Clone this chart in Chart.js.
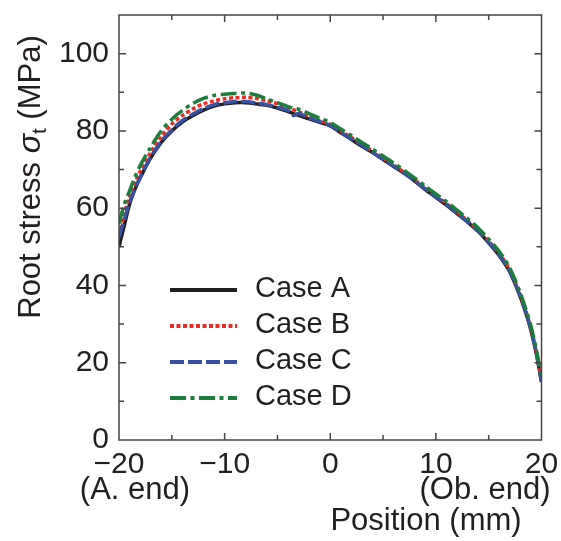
<!DOCTYPE html>
<html>
<head>
<meta charset="utf-8">
<script src="https://cdn.jsdelivr.net/npm/chart.js@4.4.0/dist/chart.umd.min.js"></script>
<style>
  html, body { margin: 0; padding: 0; background: #fff; }
  #wrap { width: 561px; height: 541px; position: relative; }
</style>
</head>
<body>
<div id="wrap"><canvas id="chartStuff"></canvas></div>
<script>
// positions along the root (mm)
var positions = [-20, -19.5, -19, -18.5, -18, -17, -16, -15, -14, -13, -12, -11, -10, -9, -8, -7, -6, -5, -4, -3.5, -3, -2, -1,
  0, 1, 2, 3, 4, 5, 6, 7, 8, 9, 10, 11, 12, 13, 14, 15, 16, 17, 18, 18.5, 19, 19.5, 20];

// root stress (MPa)
var caseA = [50, 55.5, 61, 64.8, 67.8, 73, 77, 80, 82.3, 84, 85.4, 86.4, 87, 87.3, 87.3, 87, 86.6, 85.9, 85, 84.5, 84, 83.1, 82.2,
  81.3, 79.5, 77.8, 76, 74.4, 72.6, 70.8, 69, 67, 64.8, 62.8, 60.8, 58.6, 56.4, 54, 51, 47.7, 43.5, 37, 33, 28.4, 22.5, 15];
var caseB = [53, 58.5, 63, 66.5, 69.5, 74.5, 78.5, 81.8, 84, 85.7, 87, 87.8, 88.3, 88.6, 88.7, 88.4, 87.8, 87, 86, 85.5, 85, 83.8, 82.7,
  81.7, 80, 78.3, 76.5, 74.8, 73, 71.2, 69.3, 67.3, 65.2, 63.2, 61.2, 59, 56.8, 54.4, 51.5, 48.3, 44, 37.5, 33.5, 29, 23, 15.5];
var caseC = [52.5, 57, 61.5, 65, 68, 73.3, 77.3, 80.3, 82.7, 84.4, 85.8, 86.8, 87.3, 87.6, 87.6, 87.2, 86.8, 86.1, 85.3, 84, 84.5, 83.4, 82.4,
  81.4, 79.6, 77.9, 76.3, 74.4, 72.7, 70.9, 69.1, 67.1, 65, 63, 61, 58.8, 56.5, 54.1, 51.2, 47.9, 43.7, 37.2, 33.2, 28.6, 22.7, 15.2];
var caseD = [56, 61, 64.5, 68, 71, 75.8, 80, 83, 85.3, 87.1, 88.4, 89.2, 89.5, 89.7, 89.8, 89.3, 88.3, 87.3, 86.3, 85.9, 85.6, 84.5, 83.3,
  82.2, 80.5, 78.8, 77, 75.3, 73.5, 71.7, 69.8, 67.8, 65.7, 63.7, 61.7, 59.5, 57.3, 54.9, 52, 48.8, 44.5, 38, 34, 29.5, 23.5, 16];

var caseNames = ["Case A", "Case B", "Case C", "Case D"];
var xTicks = [-20, -10, 0, 10, 20];
var yTicks = [0, 20, 40, 60, 80, 100];

var FONT = "'Liberation Sans', Arial, Helvetica, sans-serif";
var INK = "#231f20";

function pts(ys) {
  return positions.map(function (x, i) { return { x: x, y: ys[i] }; });
}

var styles = [
  { color: "#231f20", dash: [] },
  { color: "#ee2a24", dash: [4, 2.5] },
  { color: "#3953a4", dash: [14, 4] },
  { color: "#1b7f3b", dash: [16, 4.5, 4, 4.5] }
];

var allCases = [caseA, caseB, caseC, caseD];
var datasets = allCases.map(function (ys, i) {
  return {
    label: caseNames[i],
    data: pts(ys),
    showLine: true,
    borderColor: styles[i].color,
    borderDash: styles[i].dash,
    borderWidth: 3.5,
    pointRadius: 0,
    tension: 0.3,
    order: 4 - i
  };
});

// frame, inward ticks, legend and axis titles
var decor = {
  id: "decor",
  afterDatasetsDraw: function (chart) {
    var ctx = chart.ctx;
    var a = chart.chartArea;
    var xs = chart.scales.x, ys = chart.scales.y;
    ctx.save();
    ctx.strokeStyle = "#444";
    ctx.lineWidth = 1.5;
    ctx.strokeRect(a.left, a.top, a.right - a.left, a.bottom - a.top);
    ctx.beginPath();
    for (var v = -15; v <= 15; v += 5) {
      var px = xs.getPixelForValue(v);
      var len = (v % 10 === 0) ? 7 : 5;
      ctx.moveTo(px, a.bottom); ctx.lineTo(px, a.bottom - len);
      ctx.moveTo(px, a.top); ctx.lineTo(px, a.top + len);
    }
    for (var w = 10; w <= 100; w += 10) {
      var py = ys.getPixelForValue(w);
      var l2 = (w % 20 === 0) ? 7 : 5;
      ctx.moveTo(a.left, py); ctx.lineTo(a.left + l2, py);
      ctx.moveTo(a.right, py); ctx.lineTo(a.right - l2, py);
    }
    ctx.stroke();

    // legend
    ctx.font = "29px " + FONT;
    ctx.textBaseline = "middle";
    ctx.textAlign = "left";
    var rowY = [290, 326, 362, 398];
    chart.data.datasets.forEach(function (ds, i) {
      ctx.beginPath();
      ctx.strokeStyle = ds.borderColor;
      ctx.lineWidth = 4;
      ctx.setLineDash(ds.borderDash);
      ctx.moveTo(170, rowY[i]); ctx.lineTo(237, rowY[i]);
      ctx.stroke();
      ctx.setLineDash([]);
      ctx.fillStyle = INK;
      ctx.fillText(ds.label, 255, rowY[i] - 1);
    });

    // x-axis extra labels
    ctx.fillStyle = INK;
    ctx.textBaseline = "alphabetic";
    ctx.textAlign = "center";
    ctx.font = "31px " + FONT;
    ctx.fillText("(A. end)", 135, 499);
    ctx.fillText("(Ob. end)", 485, 499);
    ctx.fillText("Position (mm)", 426, 530);

    // y-axis title with italic sigma and subscript t
    ctx.translate(40, 177);
    ctx.rotate(-Math.PI / 2);
    var parts = [
      { t: "Root stress ", f: "31px " + FONT, dy: 0 },
      { t: "\u03c3", f: "italic 32px " + FONT, dy: 0 },
      { t: "t", f: "21px " + FONT, dy: 6 },
      { t: " (MPa)", f: "31px " + FONT, dy: 0 }
    ];
    var total = 0;
    parts.forEach(function (p) { ctx.font = p.f; p.w = ctx.measureText(p.t).width; total += p.w; });
    var x0 = -total / 2;
    ctx.textAlign = "left";
    parts.forEach(function (p) {
      ctx.font = p.f;
      ctx.fillText(p.t, x0, p.dy);
      x0 += p.w;
    });
    ctx.restore();
  }
};

var ctx = document.getElementById("chartStuff").getContext("2d");
var myChart = new Chart(ctx, {
  type: "scatter",
  data: { datasets: datasets },
  options: {
    responsive: true,
    maintainAspectRatio: false,
    animation: false,
    layout: { padding: { left: 0, top: 15, right: 19.5, bottom: 0 } },
    plugins: { legend: { display: false }, tooltip: { enabled: false } },
    scales: {
      x: {
        type: "linear",
        min: -20, max: 20,
        afterFit: function (s) { s.height = 101; s.paddingLeft = 0; s.paddingRight = 0; },
        afterBuildTicks: function (s) { s.ticks = xTicks.map(function (v) { return { value: v }; }); },
        grid: { display: false, drawTicks: false },
        border: { display: false },
        ticks: {
          padding: 7,
          color: INK,
          font: { size: 30, family: FONT },
          maxRotation: 0,
          callback: function (v) { return v < 0 ? "\u2212" + Math.abs(v) : String(v); }
        }
      },
      y: {
        type: "linear",
        min: 0, max: 110,
        afterFit: function (s) { s.width = 119; s.paddingTop = 0; s.paddingBottom = 0; },
        afterBuildTicks: function (s) { s.ticks = yTicks.map(function (v) { return { value: v }; }); },
        grid: { display: false, drawTicks: false },
        border: { display: false },
        ticks: {
          padding: 10,
          color: INK,
          font: { size: 30, family: FONT }
        }
      }
    }
  },
  plugins: [decor]
});
</script>
</body>
</html>
